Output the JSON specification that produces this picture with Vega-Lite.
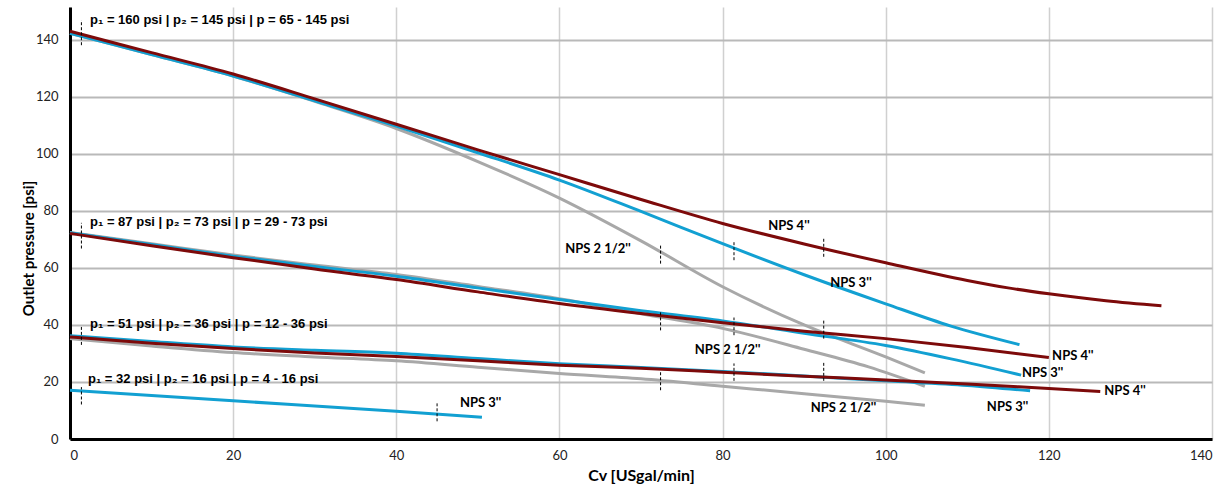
{
  "$schema": "https://vega.github.io/schema/vega-lite/v6.json",
  "width": 1142,
  "height": 432,
  "autosize": "none",
  "padding": {"left": 70, "top": 7, "right": 20, "bottom": 47},
  "background": "white",
  "config": {"view": {"stroke": null}},
  "datasets": {
    "lines": [
      {"s": "g1-4", "nps": "NPS 4", "x": 0, "y": 143}, {"s": "g1-4", "nps": "NPS 4", "x": 10, "y": 135.5}, {"s": "g1-4", "nps": "NPS 4", "x": 20, "y": 128}, {"s": "g1-4", "nps": "NPS 4", "x": 30, "y": 119.3}, {"s": "g1-4", "nps": "NPS 4", "x": 40, "y": 110.4}, {"s": "g1-4", "nps": "NPS 4", "x": 50, "y": 101.4}, {"s": "g1-4", "nps": "NPS 4", "x": 60, "y": 92.7}, {"s": "g1-4", "nps": "NPS 4", "x": 70, "y": 84}, {"s": "g1-4", "nps": "NPS 4", "x": 80, "y": 75.6}, {"s": "g1-4", "nps": "NPS 4", "x": 90, "y": 68.4}, {"s": "g1-4", "nps": "NPS 4", "x": 100, "y": 61.8}, {"s": "g1-4", "nps": "NPS 4", "x": 110, "y": 55.6}, {"s": "g1-4", "nps": "NPS 4", "x": 115, "y": 53}, {"s": "g1-4", "nps": "NPS 4", "x": 120, "y": 50.9}, {"s": "g1-4", "nps": "NPS 4", "x": 127, "y": 48.5}, {"s": "g1-4", "nps": "NPS 4", "x": 133.8, "y": 46.7},
      {"s": "g1-3", "nps": "NPS 3", "x": 0, "y": 142.3}, {"s": "g1-3", "nps": "NPS 3", "x": 10, "y": 134.8}, {"s": "g1-3", "nps": "NPS 3", "x": 20, "y": 127.3}, {"s": "g1-3", "nps": "NPS 3", "x": 30, "y": 118.6}, {"s": "g1-3", "nps": "NPS 3", "x": 40, "y": 109.7}, {"s": "g1-3", "nps": "NPS 3", "x": 50, "y": 100.4}, {"s": "g1-3", "nps": "NPS 3", "x": 60, "y": 90.8}, {"s": "g1-3", "nps": "NPS 3", "x": 70, "y": 79.8}, {"s": "g1-3", "nps": "NPS 3", "x": 80, "y": 68.5}, {"s": "g1-3", "nps": "NPS 3", "x": 90, "y": 57.6}, {"s": "g1-3", "nps": "NPS 3", "x": 100, "y": 47.4}, {"s": "g1-3", "nps": "NPS 3", "x": 108, "y": 39.6}, {"s": "g1-3", "nps": "NPS 3", "x": 116.4, "y": 33.1},
      {"s": "g1-2", "nps": "NPS 2.5", "x": 0, "y": 142.3}, {"s": "g1-2", "nps": "NPS 2.5", "x": 10, "y": 134.8}, {"s": "g1-2", "nps": "NPS 2.5", "x": 20, "y": 127.3}, {"s": "g1-2", "nps": "NPS 2.5", "x": 30, "y": 118.4}, {"s": "g1-2", "nps": "NPS 2.5", "x": 40, "y": 108.9}, {"s": "g1-2", "nps": "NPS 2.5", "x": 50, "y": 97.3}, {"s": "g1-2", "nps": "NPS 2.5", "x": 60, "y": 84.5}, {"s": "g1-2", "nps": "NPS 2.5", "x": 70, "y": 69.5}, {"s": "g1-2", "nps": "NPS 2.5", "x": 80, "y": 53.4}, {"s": "g1-2", "nps": "NPS 2.5", "x": 90, "y": 40}, {"s": "g1-2", "nps": "NPS 2.5", "x": 100, "y": 28.8}, {"s": "g1-2", "nps": "NPS 2.5", "x": 104.8, "y": 23.2},
      {"s": "g2-4", "nps": "NPS 4", "x": 0, "y": 72.1}, {"s": "g2-4", "nps": "NPS 4", "x": 10, "y": 67.8}, {"s": "g2-4", "nps": "NPS 4", "x": 20, "y": 63.6}, {"s": "g2-4", "nps": "NPS 4", "x": 30, "y": 59.6}, {"s": "g2-4", "nps": "NPS 4", "x": 40, "y": 55.9}, {"s": "g2-4", "nps": "NPS 4", "x": 50, "y": 51.6}, {"s": "g2-4", "nps": "NPS 4", "x": 60, "y": 47.5}, {"s": "g2-4", "nps": "NPS 4", "x": 70, "y": 44}, {"s": "g2-4", "nps": "NPS 4", "x": 80, "y": 40.8}, {"s": "g2-4", "nps": "NPS 4", "x": 90, "y": 37.8}, {"s": "g2-4", "nps": "NPS 4", "x": 100, "y": 35.2}, {"s": "g2-4", "nps": "NPS 4", "x": 110, "y": 32.1}, {"s": "g2-4", "nps": "NPS 4", "x": 120, "y": 28.6},
      {"s": "g2-3", "nps": "NPS 3", "x": 0, "y": 72.3}, {"s": "g2-3", "nps": "NPS 3", "x": 10, "y": 68.2}, {"s": "g2-3", "nps": "NPS 3", "x": 20, "y": 64.1}, {"s": "g2-3", "nps": "NPS 3", "x": 30, "y": 60.5}, {"s": "g2-3", "nps": "NPS 3", "x": 40, "y": 57.1}, {"s": "g2-3", "nps": "NPS 3", "x": 50, "y": 53}, {"s": "g2-3", "nps": "NPS 3", "x": 60, "y": 48.9}, {"s": "g2-3", "nps": "NPS 3", "x": 70, "y": 45}, {"s": "g2-3", "nps": "NPS 3", "x": 80, "y": 41.4}, {"s": "g2-3", "nps": "NPS 3", "x": 90, "y": 37.1}, {"s": "g2-3", "nps": "NPS 3", "x": 100, "y": 32.8}, {"s": "g2-3", "nps": "NPS 3", "x": 108, "y": 28.1}, {"s": "g2-3", "nps": "NPS 3", "x": 116.6, "y": 22.4},
      {"s": "g2-2", "nps": "NPS 2.5", "x": 0, "y": 72.4}, {"s": "g2-2", "nps": "NPS 2.5", "x": 10, "y": 68.5}, {"s": "g2-2", "nps": "NPS 2.5", "x": 20, "y": 64.5}, {"s": "g2-2", "nps": "NPS 2.5", "x": 30, "y": 61}, {"s": "g2-2", "nps": "NPS 2.5", "x": 40, "y": 57.7}, {"s": "g2-2", "nps": "NPS 2.5", "x": 50, "y": 53.5}, {"s": "g2-2", "nps": "NPS 2.5", "x": 60, "y": 49.2}, {"s": "g2-2", "nps": "NPS 2.5", "x": 70, "y": 43.9}, {"s": "g2-2", "nps": "NPS 2.5", "x": 80, "y": 38.8}, {"s": "g2-2", "nps": "NPS 2.5", "x": 90, "y": 31.5}, {"s": "g2-2", "nps": "NPS 2.5", "x": 97.9, "y": 25.3}, {"s": "g2-2", "nps": "NPS 2.5", "x": 104.8, "y": 18.5},
      {"s": "g3-4", "nps": "NPS 4", "x": 0, "y": 35.8}, {"s": "g3-4", "nps": "NPS 4", "x": 10, "y": 33.6}, {"s": "g3-4", "nps": "NPS 4", "x": 20, "y": 31.7}, {"s": "g3-4", "nps": "NPS 4", "x": 30, "y": 30.2}, {"s": "g3-4", "nps": "NPS 4", "x": 40, "y": 28.9}, {"s": "g3-4", "nps": "NPS 4", "x": 50, "y": 27.4}, {"s": "g3-4", "nps": "NPS 4", "x": 60, "y": 25.9}, {"s": "g3-4", "nps": "NPS 4", "x": 70, "y": 24.8}, {"s": "g3-4", "nps": "NPS 4", "x": 80, "y": 23.4}, {"s": "g3-4", "nps": "NPS 4", "x": 90, "y": 22}, {"s": "g3-4", "nps": "NPS 4", "x": 100, "y": 20.7}, {"s": "g3-4", "nps": "NPS 4", "x": 110, "y": 19.3}, {"s": "g3-4", "nps": "NPS 4", "x": 120, "y": 17.7}, {"s": "g3-4", "nps": "NPS 4", "x": 126.3, "y": 16.7},
      {"s": "g3-3", "nps": "NPS 3", "x": 0, "y": 36.2}, {"s": "g3-3", "nps": "NPS 3", "x": 10, "y": 34.2}, {"s": "g3-3", "nps": "NPS 3", "x": 20, "y": 32.3}, {"s": "g3-3", "nps": "NPS 3", "x": 30, "y": 31.1}, {"s": "g3-3", "nps": "NPS 3", "x": 40, "y": 30.1}, {"s": "g3-3", "nps": "NPS 3", "x": 50, "y": 28.2}, {"s": "g3-3", "nps": "NPS 3", "x": 60, "y": 26.4}, {"s": "g3-3", "nps": "NPS 3", "x": 70, "y": 25.1}, {"s": "g3-3", "nps": "NPS 3", "x": 80, "y": 23.7}, {"s": "g3-3", "nps": "NPS 3", "x": 90, "y": 22.1}, {"s": "g3-3", "nps": "NPS 3", "x": 100, "y": 20.4}, {"s": "g3-3", "nps": "NPS 3", "x": 110, "y": 18.8}, {"s": "g3-3", "nps": "NPS 3", "x": 117.7, "y": 16.9},
      {"s": "g3-2", "nps": "NPS 2.5", "x": 0, "y": 35.2}, {"s": "g3-2", "nps": "NPS 2.5", "x": 10, "y": 32.6}, {"s": "g3-2", "nps": "NPS 2.5", "x": 20, "y": 30.3}, {"s": "g3-2", "nps": "NPS 2.5", "x": 30, "y": 28.8}, {"s": "g3-2", "nps": "NPS 2.5", "x": 40, "y": 27.4}, {"s": "g3-2", "nps": "NPS 2.5", "x": 50, "y": 25.2}, {"s": "g3-2", "nps": "NPS 2.5", "x": 60, "y": 23}, {"s": "g3-2", "nps": "NPS 2.5", "x": 70, "y": 21.1}, {"s": "g3-2", "nps": "NPS 2.5", "x": 80, "y": 18.5}, {"s": "g3-2", "nps": "NPS 2.5", "x": 90, "y": 15.9}, {"s": "g3-2", "nps": "NPS 2.5", "x": 100, "y": 13.2}, {"s": "g3-2", "nps": "NPS 2.5", "x": 104.8, "y": 11.8},
      {"s": "g4-3", "nps": "NPS 3", "x": 0, "y": 17.1}, {"s": "g4-3", "nps": "NPS 3", "x": 20, "y": 13.4}, {"s": "g4-3", "nps": "NPS 3", "x": 40, "y": 9.7}, {"s": "g4-3", "nps": "NPS 3", "x": 50.5, "y": 7.6}
    ],
    "dashes": [
      {"x": 1.4, "y": 138.1, "y2": 146.9}, {"x": 72.4, "y": 61.5, "y2": 67.9}, {"x": 81.4, "y": 62.7, "y2": 69.7}, {"x": 92.4, "y": 63.9, "y2": 70.5},
      {"x": 1.4, "y": 66.8, "y2": 75.8}, {"x": 72.4, "y": 38.1, "y2": 44.6}, {"x": 81.4, "y": 36.4, "y2": 42.6}, {"x": 92.4, "y": 35.2, "y2": 41.9},
      {"x": 1.4, "y": 33, "y2": 39.3}, {"x": 72.4, "y": 17.1, "y2": 23.5}, {"x": 81.4, "y": 20.4, "y2": 26.5}, {"x": 92.4, "y": 20.4, "y2": 26.7},
      {"x": 1.4, "y": 12.1, "y2": 18.2}, {"x": 45, "y": 6.2, "y2": 12.5}
    ],
    "plabels": [
      {"x": 2.45, "y": 146.9, "t": "p₁ = 160 psi | p₂ = 145 psi | p = 65 - 145 psi"},
      {"x": 2.45, "y": 76.0, "t": "p₁ = 87 psi | p₂ = 73 psi | p = 29 - 73 psi"},
      {"x": 2.45, "y": 40.2, "t": "p₁ = 51 psi | p₂ = 36 psi | p = 12 - 36 psi"},
      {"x": 2.2, "y": 21.0, "t": "p₁ = 32 psi | p₂ = 16 psi | p = 4 - 16 psi"}
    ],
    "nlabels": [
      {"x": 85.6, "y": 74.6, "t": "NPS 4''"},
      {"x": 93.2, "y": 54.6, "t": "NPS 3''"},
      {"x": 60.7, "y": 66.6, "t": "NPS 2 1/2''"},
      {"x": 120.4, "y": 29.0, "t": "NPS 4''"},
      {"x": 116.7, "y": 23.1, "t": "NPS 3''"},
      {"x": 76.6, "y": 31.1, "t": "NPS 2 1/2''"},
      {"x": 126.8, "y": 16.7, "t": "NPS 4''"},
      {"x": 112.4, "y": 11.1, "t": "NPS 3''"},
      {"x": 90.8, "y": 10.8, "t": "NPS 2 1/2''"},
      {"x": 47.8, "y": 12.5, "t": "NPS 3''"}
    ]
  },
  "layer": [
    {
      "data": {"name": "lines"},
      "transform": [{"filter": "datum.nps === 'NPS 2.5'"}],
      "mark": {"type": "line", "strokeWidth": 3, "interpolate": "monotone", "color": "#a8a8a8"},
      "encoding": {
        "x": {
          "field": "x", "type": "quantitative",
          "scale": {"domain": [0, 140], "nice": false},
          "axis": {
            "values": [0, 20, 40, 60, 80, 100, 120, 140],
            "title": "Cv [USgal/min]",
            "titleFont": "Lato", "titleFontSize": 16, "titleFontWeight": "bold", "titleColor": "#000",
            "titlePadding": 5,
            "labelFont": "Lato", "labelFontSize": 13, "labelColor": "#222", "labelPadding": 10,
            "ticks": false,
            "domainColor": "#000", "domainWidth": 3,
            "grid": true, "gridColor": "#d0d0d0", "gridWidth": 1.5
          }
        },
        "y": {
          "field": "y", "type": "quantitative",
          "scale": {"domain": [0, 151.5], "nice": false},
          "axis": {
            "values": [0, 20, 40, 60, 80, 100, 120, 140],
            "title": "Outlet pressure [psi]",
            "titleFont": "Lato", "titleFontSize": 15, "titleFontWeight": "bold", "titleColor": "#000",
            "titleX": -34, "titleY": 241,
            "labelFont": "Lato", "labelFontSize": 13, "labelColor": "#222", "labelPadding": 12,
            "ticks": false,
            "domainColor": "#000", "domainWidth": 3,
            "grid": true, "gridColor": "#b9b9b9", "gridWidth": 2
          }
        },
        "detail": {"field": "s"}
      }
    },
    {
      "data": {"name": "lines"},
      "transform": [{"filter": "datum.nps === 'NPS 3'"}],
      "mark": {"type": "line", "strokeWidth": 3, "interpolate": "monotone", "color": "#12a0d2"},
      "encoding": {
        "x": {"field": "x", "type": "quantitative"},
        "y": {"field": "y", "type": "quantitative"},
        "detail": {"field": "s"}
      }
    },
    {
      "data": {"name": "lines"},
      "transform": [{"filter": "datum.nps === 'NPS 4'"}],
      "mark": {"type": "line", "strokeWidth": 3, "interpolate": "monotone", "color": "#7d0a0a"},
      "encoding": {
        "x": {"field": "x", "type": "quantitative"},
        "y": {"field": "y", "type": "quantitative"},
        "detail": {"field": "s"}
      }
    },
    {
      "data": {"name": "dashes"},
      "mark": {"type": "rule", "color": "#000", "strokeWidth": 1, "strokeDash": [3, 2]},
      "encoding": {
        "x": {"field": "x", "type": "quantitative"},
        "y": {"field": "y", "type": "quantitative"},
        "y2": {"field": "y2"}
      }
    },
    {
      "data": {"name": "plabels"},
      "mark": {"type": "text", "align": "left", "baseline": "middle", "font": "Liberation Sans Narrow, Liberation Sans", "fontSize": 13, "fontWeight": "bold", "color": "#000"},
      "encoding": {
        "x": {"field": "x", "type": "quantitative"},
        "y": {"field": "y", "type": "quantitative"},
        "text": {"field": "t"}
      }
    },
    {
      "data": {"name": "nlabels"},
      "mark": {"type": "text", "align": "left", "baseline": "middle", "font": "Lato", "fontSize": 13, "fontWeight": "bold", "color": "#000"},
      "encoding": {
        "x": {"field": "x", "type": "quantitative"},
        "y": {"field": "y", "type": "quantitative"},
        "text": {"field": "t"}
      }
    }
  ]
}
